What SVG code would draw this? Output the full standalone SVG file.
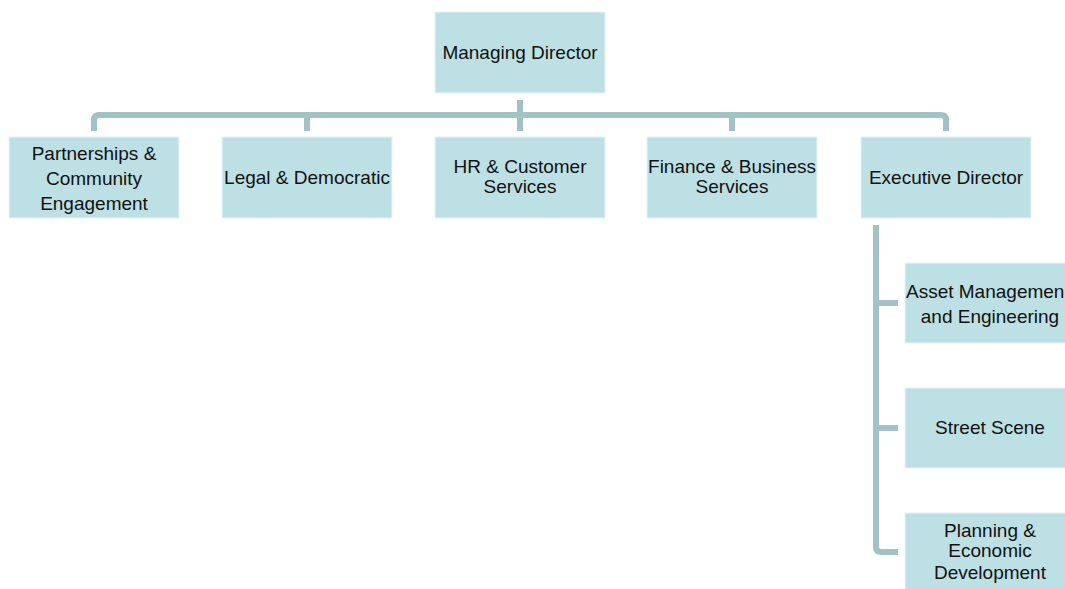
<svg xmlns="http://www.w3.org/2000/svg" width="1065" height="589" viewBox="0 0 1065 589">
<style>
.box{fill:#bce0e3;stroke:#e8f4f5;stroke-width:1}
.lbl{font-family:"Liberation Sans",Arial,sans-serif;font-size:19px;fill:#111;text-anchor:middle}
.con{fill:none;stroke:#a2c2c5;stroke-width:6;stroke-linejoin:round;stroke-linecap:butt}
</style>
<rect width="1065" height="589" fill="#ffffff"/>
<g id="connectors">
<path class="con" d="M94,131 V120 Q94,115 99,115 H941 Q946,115 946,120 V131"/>
<path class="con" d="M520,100 V131"/>
<path class="con" d="M307,115 V131"/>
<path class="con" d="M732,115 V131"/>
<path class="con" d="M876,225 V547 Q876,552 881,552 H898"/>
<path class="con" d="M876,303 H898"/>
<path class="con" d="M876,428 H898"/>
</g>
<g id="managing-director">
<rect class="box" x="435" y="12" width="170" height="81"/>
<text class="lbl" x="520" y="59">Managing Director</text>
</g>
<g id="partnerships">
<rect class="box" x="9" y="137" width="170" height="81"/>
<text class="lbl" x="94" y="160">Partnerships &amp;</text>
<text class="lbl" x="94" y="185">Community</text>
<text class="lbl" x="94" y="210">Engagement</text>
</g>
<g id="legal">
<rect class="box" x="222" y="137" width="170" height="81"/>
<text class="lbl" x="307" y="184">Legal &amp; Democratic</text>
</g>
<g id="hr">
<rect class="box" x="435" y="137" width="170" height="81"/>
<text class="lbl" x="520" y="173">HR &amp; Customer</text>
<text class="lbl" x="520" y="193">Services</text>
</g>
<g id="finance">
<rect class="box" x="647" y="137" width="170" height="81"/>
<text class="lbl" x="732" y="173">Finance &amp; Business</text>
<text class="lbl" x="732" y="193">Services</text>
</g>
<g id="executive-director">
<rect class="box" x="861" y="137" width="170" height="81"/>
<text class="lbl" x="946" y="184">Executive Director</text>
</g>
<g id="asset-management">
<rect class="box" x="905" y="263" width="170" height="80"/>
<text class="lbl" x="906" y="298" style="text-anchor:start">Asset Managemen</text>
<text class="lbl" x="990" y="323">and Engineering</text>
</g>
<g id="street-scene">
<rect class="box" x="905" y="388" width="170" height="80"/>
<text class="lbl" x="990" y="434">Street Scene</text>
</g>
<g id="planning">
<rect class="box" x="905" y="513" width="170" height="80"/>
<text class="lbl" x="990" y="537">Planning &amp;</text>
<text class="lbl" x="990" y="557">Economic</text>
<text class="lbl" x="990" y="579">Development</text>
</g>
</svg>
